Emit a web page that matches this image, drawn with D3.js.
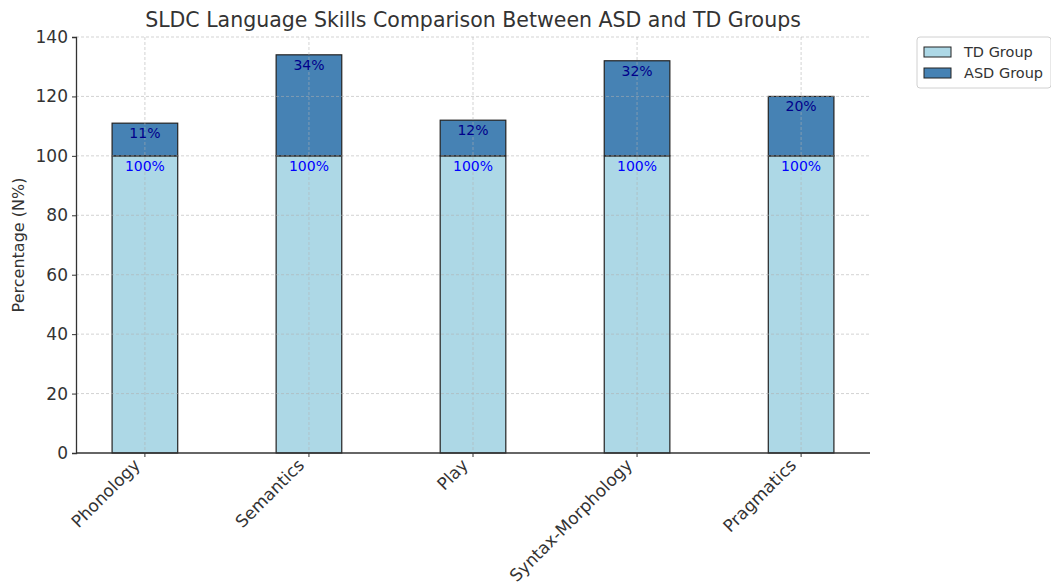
<!DOCTYPE html>
<html>
<head>
<meta charset="utf-8">
<script src="https://cdn.jsdelivr.net/npm/d3@7"></script>
<style>
  body { margin: 0; background: #fff; }
  svg text { font-family: "DejaVu Sans", sans-serif; }
</style>
</head>
<body>
<script>
var categories = ['Phonology', 'Semantics', 'Play', 'Syntax-Morphology', 'Pragmatics'];
var tdValues = [100, 100, 100, 100, 100];
var asdValues = [11, 34, 12, 32, 20];
var seriesNames = ['TD Group', 'ASD Group'];
var yTicks = [0, 20, 40, 60, 80, 100, 120, 140];

var w = 1051;
var h = 584;
var plotLeft = 76, plotRight = 870, plotTop = 37, plotBottom = 453;
var colours = ['#add8e6', '#4682b4'];

var dataset = categories.map(function(c, i){
  return { category: c, td: tdValues[i], asd: asdValues[i] };
});

var svg = d3.select('body')
  .append('svg')
  .attr('width', w)
  .attr('height', h);

var xScale = d3.scaleBand()
  .domain(categories)
  .range([plotLeft, plotRight])
  .paddingInner(0.6)
  .paddingOuter(0.22);

var yScale = d3.scaleLinear()
  .domain([0, 140])
  .range([plotBottom, plotTop]);

// TD bars
svg.append('g').selectAll('rect')
  .data(dataset)
  .enter()
  .append('rect')
  .attr('x', function(d){ return xScale(d.category); })
  .attr('y', function(d){ return yScale(d.td); })
  .attr('width', xScale.bandwidth())
  .attr('height', function(d){ return yScale(0) - yScale(d.td); })
  .attr('fill', colours[0])
  .attr('stroke', '#222')
  .attr('stroke-width', 1.2);

// ASD bars stacked on top
svg.append('g').selectAll('rect')
  .data(dataset)
  .enter()
  .append('rect')
  .attr('x', function(d){ return xScale(d.category); })
  .attr('y', function(d){ return yScale(d.td + d.asd); })
  .attr('width', xScale.bandwidth())
  .attr('height', function(d){ return yScale(d.td) - yScale(d.td + d.asd); })
  .attr('fill', colours[1])
  .attr('stroke', '#222')
  .attr('stroke-width', 1.2);

// grid on top, like the original
var grid = svg.append('g')
  .attr('stroke', '#b0b0b0')
  .attr('stroke-opacity', 0.7)
  .attr('stroke-dasharray', '3,2')
  .attr('stroke-width', 0.8);

grid.selectAll('line.h')
  .data(yTicks.slice(1))
  .enter()
  .append('line')
  .attr('x1', plotLeft)
  .attr('x2', plotRight)
  .attr('y1', function(d){ return yScale(d); })
  .attr('y2', function(d){ return yScale(d); });

grid.selectAll('line.v')
  .data(categories)
  .enter()
  .append('line')
  .attr('x1', function(d){ return xScale(d) + xScale.bandwidth() / 2; })
  .attr('x2', function(d){ return xScale(d) + xScale.bandwidth() / 2; })
  .attr('y1', plotTop)
  .attr('y2', plotBottom);

// value labels
svg.append('g').selectAll('text')
  .data(dataset)
  .enter()
  .append('text')
  .text(function(d){ return d.td + '%'; })
  .attr('x', function(d){ return xScale(d.category) + xScale.bandwidth() / 2; })
  .attr('y', function(d){ return yScale(d.td) + 15; })
  .attr('fill', '#0000ff')
  .attr('font-size', '14px')
  .attr('text-anchor', 'middle');

svg.append('g').selectAll('text')
  .data(dataset)
  .enter()
  .append('text')
  .text(function(d){ return d.asd + '%'; })
  .attr('x', function(d){ return xScale(d.category) + xScale.bandwidth() / 2; })
  .attr('y', function(d){ return yScale(d.td + d.asd) + 15; })
  .attr('fill', '#00008b')
  .attr('font-size', '14px')
  .attr('text-anchor', 'middle');

// axes
var yAxis = d3.axisLeft(yScale).tickValues(yTicks).tickSize(4).tickPadding(4);
var xAxis = d3.axisBottom(xScale).tickSize(4).tickPadding(4);

var gy = svg.append('g')
  .attr('transform', 'translate(' + plotLeft + ',0)')
  .call(yAxis);
gy.select('.domain').attr('stroke', '#333').attr('stroke-width', 1.3);
gy.selectAll('.tick line').attr('stroke', '#333');
gy.selectAll('text').attr('font-size', '17px').attr('fill', '#333');

var gx = svg.append('g')
  .attr('transform', 'translate(0,' + plotBottom + ')')
  .call(xAxis);
gx.select('.domain').attr('d', 'M' + plotLeft + ',0H' + plotRight).attr('stroke', '#333').attr('stroke-width', 1.3);
gx.selectAll('.tick line').attr('stroke', '#333');
gx.selectAll('text')
  .attr('font-size', '17px')
  .attr('fill', '#333')
  .attr('text-anchor', 'end')
  .attr('dy', '0.35em')
  .attr('transform', 'translate(-8,9) rotate(-45)')
  .attr('y', 0)
  .attr('x', 0);

// title and axis label
svg.append('text')
  .text('SLDC Language Skills Comparison Between ASD and TD Groups')
  .attr('x', (plotLeft + plotRight) / 2)
  .attr('y', 27)
  .attr('text-anchor', 'middle')
  .attr('font-size', '20.5px')
  .attr('fill', '#333');

svg.append('text')
  .text('Percentage (N%)')
  .attr('transform', 'translate(24,' + ((plotTop + plotBottom) / 2) + ') rotate(-90)')
  .attr('text-anchor', 'middle')
  .attr('font-size', '16px')
  .attr('fill', '#333');

// legend
var legend = svg.append('g').attr('transform', 'translate(917,37)');
legend.append('rect')
  .attr('width', 134)
  .attr('height', 51)
  .attr('rx', 3)
  .attr('fill', '#fff')
  .attr('stroke', '#d0d0d0');
legend.selectAll('rect.sw')
  .data(seriesNames)
  .enter()
  .append('rect')
  .attr('x', 7)
  .attr('y', function(d, i){ return 10 + i * 21; })
  .attr('width', 27)
  .attr('height', 10)
  .attr('fill', function(d, i){ return colours[i]; })
  .attr('stroke', '#222');
legend.selectAll('text')
  .data(seriesNames)
  .enter()
  .append('text')
  .text(function(d){ return d; })
  .attr('x', 47)
  .attr('y', function(d, i){ return 20 + i * 21; })
  .attr('font-size', '14.5px')
  .attr('fill', '#333');
</script>
</body>
</html>
